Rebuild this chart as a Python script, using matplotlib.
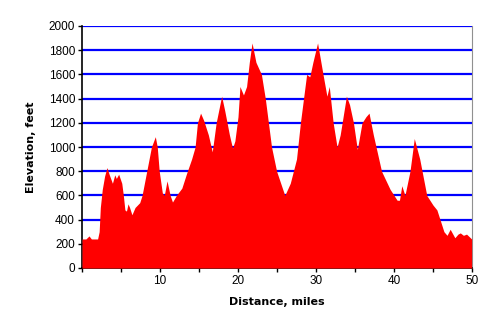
import matplotlib
matplotlib.use("Agg")
import matplotlib.pyplot as plt
from matplotlib.ticker import MultipleLocator

distance_miles = [0.0, 0.5, 0.9, 1.2, 1.6, 2.0, 2.2, 2.35, 2.6, 2.9, 3.2, 3.5, 3.9, 4.2,
                  4.4, 4.7, 5.1, 5.3, 5.5, 5.7, 5.9, 6.1, 6.4, 6.8, 7.4, 7.7, 8.3, 8.9,
                  9.4, 9.65, 9.9, 10.3, 10.55, 10.9, 11.3, 11.6, 12.1, 12.8, 13.4, 14.05,
                  14.5, 14.8, 15.2, 15.6, 16.2, 16.7, 17.2, 17.9, 18.3, 18.9, 19.3, 19.6,
                  20.0, 20.25, 20.7, 21.1, 21.45, 21.8, 22.3, 23.0, 23.5, 24.3, 24.95,
                  26.0, 26.7, 27.5, 28.0, 28.8, 29.2, 29.6, 30.2, 30.9, 31.4, 31.7, 32.2,
                  32.7, 33.1, 33.9, 34.3, 34.8, 35.3, 35.9, 36.4, 36.8, 37.35, 38.4, 39.5,
                  40.4, 40.7, 41.0, 41.4, 42.05, 42.6, 43.3, 44.2, 45.0, 45.5, 45.9, 46.4,
                  46.8, 47.2, 47.8, 48.2, 48.5, 48.9, 49.3, 49.95]
elevation_feet = [240, 240, 265, 240, 240, 240, 300, 500, 650, 760, 830, 770, 700, 770,
                  740, 775, 700, 600, 480, 470, 530, 500, 440, 500, 540, 600, 800, 1000,
                  1085, 1000, 800, 620, 600, 720, 600, 545, 600, 660, 780, 900,
                  1000, 1200, 1280, 1220, 1100, 960, 1200, 1420, 1300, 1100, 990, 1050,
                  1250, 1500, 1430, 1500, 1700, 1860, 1700, 1600, 1400, 1000, 800,
                  600, 700, 900, 1200, 1600, 1580, 1700, 1860, 1600, 1420, 1500, 1200,
                  1000, 1100, 1420, 1350, 1200, 980, 1200, 1250, 1280, 1100, 800, 650,
                  560, 560, 680, 600, 800, 1070, 900, 600, 520, 480, 400, 300,
                  270, 320, 250, 280, 290, 270, 280, 240]

fig = plt.figure(figsize=(4.93, 3.26), dpi=100)
ax = fig.add_axes([82 / 493, 1 - 268 / 326, 390 / 493, 242 / 326])

ax.set_axisbelow(True)
ax.yaxis.grid(True, color="#0000ff", linewidth=1.6)
ax.fill_between(distance_miles, elevation_feet, 0, color="#ff0000", linewidth=0, zorder=3)

ax.set_xlim(0, 50)
ax.set_ylim(0, 2000)
ax.xaxis.set_major_locator(MultipleLocator(10))
ax.xaxis.set_minor_locator(MultipleLocator(5))
ax.yaxis.set_major_locator(MultipleLocator(200))
ax.set_xticks([10, 20, 30, 40, 50])
ax.set_xticklabels(["10", "20", "30", "40", "50"])

for lab in ax.get_xticklabels() + ax.get_yticklabels():
    lab.set_fontfamily("Liberation Sans")
    lab.set_fontsize(8.5)

ax.tick_params(axis="both", which="major", direction="out", length=3, width=1, color="black", pad=2)
ax.tick_params(axis="x", which="minor", direction="out", length=3, width=1, color="black")

ax.spines["top"].set_visible(False)
ax.spines["right"].set_color("#909090")
ax.spines["left"].set_color("black")
ax.spines["bottom"].set_color("black")
ax.spines["left"].set_linewidth(1.2)
ax.spines["bottom"].set_linewidth(1.2)

ax.set_xlabel("Distance, miles", fontsize=8, fontweight="bold", family="DejaVu Sans", labelpad=7)
ax.set_ylabel("Elevation, feet", fontsize=8, fontweight="bold", family="DejaVu Sans", labelpad=9)

fig.savefig("out.png", dpi=100)
